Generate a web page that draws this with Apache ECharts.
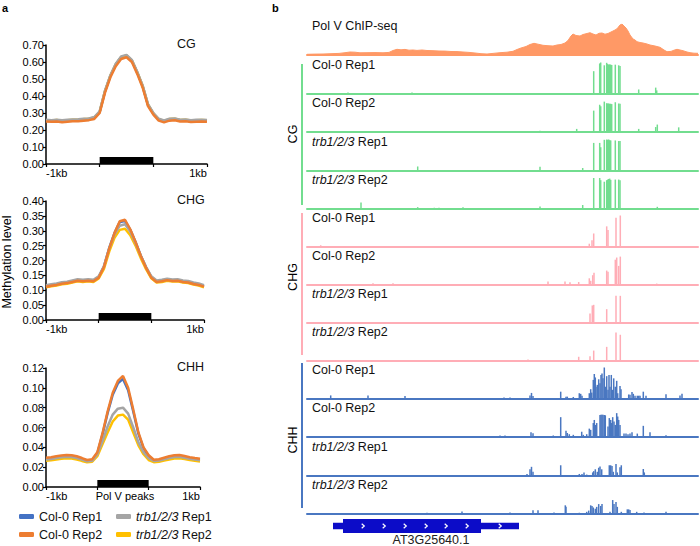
<!DOCTYPE html>
<html>
<head>
<meta charset="utf-8">
<script src="https://cdn.jsdelivr.net/npm/echarts@6/dist/echarts.min.js"></script>
<style>
html, body { margin: 0; padding: 0; background: #fff; }
#chart { width: 700px; height: 546px; }
</style>
</head>
<body>
<div id="chart"></div>
<script>
// ---- panel a: methylation metaplot around Pol V peaks (-1kb .. peak .. +1kb) ----
const profileBins = [0, 1, 2, 3, 4, 5, 6, 7, 8, 9, 10, 11, 12, 13, 14, 15, 16, 17, 18, 19, 20, 21, 22, 23, 24, 25, 26, 27, 28, 29, 30];
const peakRegion = [[10, 20]];
const repNames = ['Col-0 Rep1', 'Col-0 Rep2', 'trb1/2/3 Rep1', 'trb1/2/3 Rep2'];

const cgCol1 = [0.256, 0.255, 0.257, 0.254, 0.256, 0.258, 0.259, 0.262, 0.264, 0.272, 0.305, 0.428, 0.518, 0.585, 0.628, 0.636, 0.608, 0.538, 0.458, 0.348, 0.296, 0.262, 0.252, 0.262, 0.263, 0.257, 0.258, 0.254, 0.256, 0.257, 0.255];
const cgCol2 = [0.250, 0.248, 0.250, 0.246, 0.249, 0.251, 0.252, 0.255, 0.258, 0.265, 0.300, 0.420, 0.510, 0.575, 0.618, 0.628, 0.600, 0.530, 0.450, 0.340, 0.290, 0.255, 0.245, 0.255, 0.257, 0.250, 0.251, 0.247, 0.249, 0.250, 0.248];
const cgTrb1 = [0.260, 0.258, 0.261, 0.257, 0.260, 0.262, 0.263, 0.266, 0.268, 0.276, 0.310, 0.432, 0.522, 0.590, 0.633, 0.642, 0.612, 0.542, 0.462, 0.352, 0.300, 0.266, 0.256, 0.266, 0.268, 0.261, 0.262, 0.258, 0.260, 0.261, 0.259];
const cgTrb2 = [0.258, 0.256, 0.259, 0.255, 0.258, 0.260, 0.261, 0.264, 0.266, 0.274, 0.307, 0.430, 0.520, 0.587, 0.630, 0.639, 0.610, 0.540, 0.460, 0.350, 0.298, 0.264, 0.254, 0.264, 0.266, 0.259, 0.260, 0.256, 0.258, 0.259, 0.257];

const chgCol1 = [0.114, 0.117, 0.120, 0.124, 0.126, 0.130, 0.134, 0.132, 0.134, 0.132, 0.144, 0.180, 0.242, 0.292, 0.329, 0.333, 0.303, 0.262, 0.216, 0.177, 0.144, 0.130, 0.132, 0.136, 0.133, 0.134, 0.130, 0.128, 0.123, 0.120, 0.114];
const chgCol2 = [0.112, 0.115, 0.118, 0.122, 0.124, 0.128, 0.132, 0.130, 0.132, 0.130, 0.142, 0.178, 0.240, 0.292, 0.332, 0.337, 0.305, 0.262, 0.215, 0.175, 0.142, 0.128, 0.130, 0.134, 0.131, 0.132, 0.128, 0.126, 0.121, 0.118, 0.112];
const chgTrb1 = [0.117, 0.120, 0.123, 0.127, 0.129, 0.133, 0.137, 0.135, 0.137, 0.135, 0.147, 0.180, 0.240, 0.287, 0.317, 0.322, 0.297, 0.258, 0.216, 0.178, 0.147, 0.133, 0.135, 0.139, 0.136, 0.137, 0.133, 0.131, 0.126, 0.123, 0.117];
const chgTrb2 = [0.110, 0.113, 0.116, 0.120, 0.122, 0.126, 0.130, 0.128, 0.130, 0.128, 0.140, 0.172, 0.230, 0.276, 0.303, 0.307, 0.285, 0.250, 0.208, 0.171, 0.140, 0.126, 0.128, 0.132, 0.129, 0.130, 0.126, 0.124, 0.119, 0.116, 0.110];

const chhCol1 = [0.0285, 0.0290, 0.0300, 0.0308, 0.0312, 0.0310, 0.0300, 0.0282, 0.0265, 0.0272, 0.0340, 0.0528, 0.0745, 0.0930, 0.1045, 0.1090, 0.0975, 0.0762, 0.0538, 0.0390, 0.0312, 0.0268, 0.0272, 0.0287, 0.0300, 0.0310, 0.0312, 0.0302, 0.0291, 0.0283, 0.0277];
const chhCol2 = [0.0295, 0.0300, 0.0310, 0.0318, 0.0322, 0.0320, 0.0310, 0.0292, 0.0272, 0.0280, 0.0350, 0.0540, 0.0760, 0.0950, 0.1070, 0.1120, 0.1000, 0.0780, 0.0550, 0.0400, 0.0320, 0.0275, 0.0280, 0.0295, 0.0310, 0.0320, 0.0322, 0.0312, 0.0300, 0.0292, 0.0285];
const chhTrb1 = [0.0278, 0.0283, 0.0292, 0.0300, 0.0304, 0.0302, 0.0292, 0.0276, 0.0260, 0.0265, 0.0330, 0.0460, 0.0610, 0.0730, 0.0790, 0.0800, 0.0740, 0.0600, 0.0450, 0.0350, 0.0290, 0.0262, 0.0266, 0.0280, 0.0292, 0.0302, 0.0304, 0.0295, 0.0284, 0.0276, 0.0270];
const chhTrb2 = [0.0265, 0.0270, 0.0278, 0.0285, 0.0290, 0.0288, 0.0278, 0.0263, 0.0250, 0.0255, 0.0310, 0.0430, 0.0550, 0.0660, 0.0720, 0.0730, 0.0680, 0.0550, 0.0420, 0.0330, 0.0272, 0.0250, 0.0254, 0.0266, 0.0278, 0.0287, 0.0290, 0.0282, 0.0272, 0.0264, 0.0258];

// ---- panel b: genome browser, positions are bins across the shown locus (0..391) ----
const chipSignal = [[0, 0.7], [8, 0.9], [16, 1.0], [24, 1.3], [32, 1.6], [38, 2.3], [43, 3.0], [48, 2.8], [53, 2.2], [60, 2.3], [68, 2.4], [76, 2.2], [82, 2.6], [86, 4.5], [90, 5.7], [94, 5.2], [98, 5.6], [102, 4.8], [106, 5.0], [110, 4.6], [115, 5.0], [120, 4.5], [126, 4.3], [132, 4.0], [138, 3.9], [144, 3.5], [150, 3.4], [156, 3.0], [162, 2.6], [168, 2.0], [174, 1.3], [180, 1.0], [186, 1.6], [193, 2.3], [200, 2.8], [206, 3.7], [210, 5.5], [214, 7.0], [219, 8.5], [223, 10.5], [227, 11.7], [231, 10.8], [236, 9.7], [241, 9.3], [246, 9.0], [250, 10.0], [254, 10.5], [258, 12.0], [261, 14.5], [264, 19.0], [266, 21.0], [269, 19.5], [273, 19.0], [276, 20.5], [280, 21.5], [283, 22.3], [286, 21.0], [289, 20.0], [292, 21.7], [295, 22.0], [298, 20.8], [301, 21.5], [304, 23.0], [307, 24.5], [309, 25.5], [311, 27.5], [313, 30.0], [315, 31.0], [317, 29.0], [319, 27.0], [321, 24.0], [323, 20.0], [326, 16.0], [328, 15.0], [330, 13.3], [333, 12.5], [336, 12.0], [340, 11.0], [343, 10.0], [348, 9.0], [353, 7.7], [357, 5.0], [360, 3.3], [364, 3.6], [367, 4.8], [370, 5.7], [373, 5.0], [376, 4.3], [380, 3.0], [383, 2.3], [387, 1.8], [391, 1.7]];

const cgCol0Rep1 = [[41, 0.03], [105, 0.03], [286.7, 0.72], [292.7, 0.97], [293.7, 1.0], [297.3, 0.91], [299.7, 0.99], [300.7, 0.95], [301.7, 0.93], [302.7, 0.94], [303.7, 0.93], [304.7, 0.92], [308.3, 0.93], [311.7, 0.91], [313, 0.89], [331.7, 0.13], [348.7, 0.19], [349.7, 0.1]];
const cgCol0Rep2 = [[233, 0.04], [269.7, 0.1], [286.7, 0.69], [292.7, 0.88], [293.7, 0.83], [297.3, 0.98], [299.7, 0.93], [300.7, 0.92], [301.7, 0.92], [302.7, 0.91], [303.7, 0.91], [304.7, 0.9], [308.3, 0.96], [311.7, 0.92], [313, 0.91], [331.7, 0.1], [348.7, 0.16], [350.3, 0.24], [371.7, 0.15]];
const cgTrbRep1 = [[110.7, 0.13], [233, 0.12], [275.7, 0.08], [286.7, 0.89], [292.7, 0.89], [293.7, 0.75], [297.3, 0.99], [299.7, 1.0], [300.7, 0.99], [301.7, 1.0], [302.7, 0.98], [303.7, 0.97], [308.3, 0.97], [311.7, 0.95], [313, 0.95]];
const cgTrbRep2 = [[54, 0.21], [110.7, 0.06], [127.3, 0.04], [132, 0.04], [156, 0.06], [233, 0.08], [275.7, 0.13], [286.7, 1.0], [292.7, 1.0], [293.7, 0.93], [297.3, 0.88], [299.7, 0.93], [300.7, 0.95], [301.7, 0.97], [302.7, 0.98], [303.7, 0.94], [308.3, 0.95], [311.7, 0.95], [313, 0.93], [350.3, 0.07]];

const chgCol0Rep1 = [[13.7, 0.04], [168, 0.02], [282.3, 0.09], [285, 0.2], [286.7, 0.42], [299.7, 0.65], [301, 0.53], [309, 0.93], [313.3, 1.0]];
const chgCol0Rep2 = [[66, 0.04], [86, 0.04], [241, 0.1], [258, 0.1], [263, 0.07], [271.7, 0.08], [282.3, 0.2], [283.7, 0.12], [285.7, 0.3], [287, 0.38], [299.7, 0.45], [301, 0.41], [308.3, 0.8], [309.7, 0.87], [311.7, 0.6], [313.3, 0.9], [349.7, 0.03]];
const chgTrbRep1 = [[283, 0.29], [285.3, 0.55], [286.7, 0.57], [299.7, 0.43], [309, 0.86], [313.3, 0.86]];
const chgTrbRep2 = [[221, 0.03], [271.7, 0.12], [283, 0.14], [286.7, 0.32], [299.7, 0.44], [309, 0.9], [313.3, 0.83]];

const chhCol0Rep1 = [[23.7, 0.1], [61, 0.1], [98, 0.08], [197, 0.03], [203, 0.03], [223, 0.1], [224.5, 0.18], [226, 0.08], [253.7, 0.22], [259, 0.06], [260.3, 0.06], [266.3, 0.05], [272.3, 0.17], [273.7, 0.15], [275, 0.09], [282.3, 0.17], [283.7, 0.3], [284.7, 0.19], [286.3, 0.6], [287.3, 0.79], [288.3, 0.68], [289, 0.38], [290.3, 0.44], [291.7, 0.62], [293, 0.49], [294, 0.76], [295, 0.81], [296, 0.65], [297.3, 1.0], [298.3, 0.38], [299.7, 0.72], [301, 0.28], [302, 0.76], [303, 0.38], [304.3, 0.76], [305.7, 0.28], [306.7, 0.65], [308.3, 0.38], [309.7, 0.57], [310.7, 0.17], [313, 0.4], [314, 0.3], [321.7, 0.13], [323, 0.12], [325, 0.21], [326.3, 0.15], [328, 0.09], [330.3, 0.09], [331.7, 0.09], [333, 0.09], [336.3, 0.22], [339, 0.09], [359, 0.14], [373, 0.1], [375, 0.15]];
const chhCol0Rep2 = [[22, 0.03], [76, 0.03], [166, 0.03], [193, 0.05], [198, 0.05], [224, 0.15], [226, 0.12], [246.3, 0.05], [253.7, 0.64], [259, 0.2], [260.3, 0.13], [262.3, 0.09], [266.3, 0.07], [274.7, 0.17], [276.3, 0.07], [279.7, 0.09], [282.3, 0.27], [283.7, 0.23], [286.3, 0.45], [287.3, 0.55], [288.3, 0.39], [289.7, 0.45], [293, 0.71], [294, 0.72], [295, 0.72], [296, 0.72], [297.3, 0.71], [298.3, 0.7], [301, 0.34], [302.3, 0.61], [303.7, 0.55], [304.7, 0.45], [305.7, 0.64], [307, 0.5], [308.3, 0.39], [309.7, 0.77], [310.7, 0.66], [311.7, 0.55], [313, 0.39], [317, 0.11], [319, 0.11], [321, 0.09], [323, 0.11], [325, 0.15], [330.3, 0.11], [336.3, 0.36], [343, 0.15], [359, 0.06]];
const chhTrbRep1 = [[186, 0.02], [193, 0.02], [203, 0.02], [220, 0.05], [223, 0.2], [224.5, 0.28], [226, 0.12], [253.7, 0.33], [272.3, 0.05], [275, 0.05], [277, 0.1], [279.7, 0.03], [285.7, 0.1], [286.7, 0.14], [288.3, 0.2], [290.3, 0.12], [291.7, 0.25], [293, 0.29], [294.7, 0.2], [302.3, 0.33], [303.7, 0.33], [305, 0.31], [306.3, 0.12], [309, 0.37], [310.3, 0.1], [313, 0.27], [314.3, 0.33], [336.3, 0.21], [337.3, 0.1]];
const chhTrbRep2 = [[120, 0.04], [155, 0.08], [203, 0.05], [226, 0.12], [231, 0.12], [247, 0.05], [258.3, 0.28], [259, 0.23], [272.3, 0.04], [279.7, 0.07], [281.7, 0.11], [283.7, 0.28], [285, 0.26], [286.3, 0.21], [288.3, 0.17], [289.7, 0.23], [291.7, 0.32], [293.7, 0.26], [295, 0.32], [303, 0.07], [305.7, 0.45], [307, 0.32], [309, 0.39], [310.3, 0.23], [314.3, 0.07], [320.3, 0.15], [321.7, 0.15], [323, 0.13], [329.7, 0.07], [337, 0.05], [359, 0.07]];

// gene model AT3G25640.1: [geneStart, geneEnd, cdsStart, cdsEnd]
const geneModel = [[26, 212, 36, 174]];
const strandMarks = [56, 77, 98, 119, 139, 160, 193];

const FONT = '"Liberation Sans", Arial, Helvetica, sans-serif';
const repColors = ['#4472c4', '#ed7d31', '#a5a5a5', '#ffc000'];
const ctxColors = { CG: '#72dd8f', CHG: '#ffadb6', CHH: '#4a77c1' };
const GENE = '#0c0cc8';

let myChart = echarts.init(document.getElementById('chart'), null, { renderer: 'svg' });

let grid = [], xAxis = [], yAxis = [], series = [], graphic = [];

// profile panels
let profiles = [
    { ctx: 'CG', box: { left: 46, top: 45, width: 161, height: 119 }, max: 0.7, interval: 0.1, rows: [cgCol1, cgCol2, cgTrb1, cgTrb2] },
    { ctx: 'CHG', box: { left: 46, top: 201, width: 158, height: 119 }, max: 0.4, interval: 0.05, rows: [chgCol1, chgCol2, chgTrb1, chgTrb2] },
    { ctx: 'CHH', box: { left: 46, top: 368, width: 154, height: 119 }, max: 0.12, interval: 0.02, rows: [chhCol1, chhCol2, chhTrb1, chhTrb2] },
];
// draw order: blue, yellow, grey, orange on top
let drawOrder = [0, 3, 2, 1];

profiles.forEach(function (p, i) {
    grid.push(Object.assign({ outerBoundsMode: 'none', containLabel: false }, p.box));
    xAxis.push({
        type: 'value', gridIndex: i, min: 0, max: 30, interval: 10,
        axisLine: { lineStyle: { color: '#000', width: 1.5 } },
        axisTick: { length: 3, lineStyle: { color: '#000', width: 1.2 } },
        axisLabel: {
            margin: 3, color: '#000', fontSize: 11, fontFamily: FONT,
            alignMinLabel: 'left', alignMaxLabel: 'right',
            formatter: function (v) { return v === 0 ? '-1kb' : (v === 30 ? '1kb' : ''); },
        },
        splitLine: { show: false },
    });
    yAxis.push({
        type: 'value', gridIndex: i, min: 0, max: p.max, interval: p.interval,
        axisLine: { show: true, lineStyle: { color: '#000', width: 1.5 } },
        axisTick: { show: true, length: 3, lineStyle: { color: '#000', width: 1.2 } },
        axisLabel: { margin: 2, color: '#000', fontSize: 11, fontFamily: FONT, formatter: function (v) { return v.toFixed(2); } },
        splitLine: { show: false },
    });
    drawOrder.forEach(function (r) {
        series.push({
            type: 'line', name: repNames[r], xAxisIndex: i, yAxisIndex: i,
            data: profileBins.map(function (x, k) { return [x, p.rows[r][k]]; }),
            symbol: 'none', smooth: false,
            lineStyle: { width: 2.5, color: repColors[r] },
            itemStyle: { color: repColors[r] },
        });
    });
    // black bar marking the Pol V peak region
    series.push({
        type: 'custom', xAxisIndex: i, yAxisIndex: i, data: peakRegion, silent: true,
        renderItem: function (params, api) {
            let a = api.coord([api.value(0), 0]);
            let b = api.coord([api.value(1), 0]);
            return { type: 'rect', shape: { x: a[0], y: a[1] - 7, width: b[0] - a[0], height: 7 }, style: { fill: '#000' } };
        },
    });
    graphic.push({ type: 'text', x: p.box.left + 131, y: p.box.top - 1, style: { text: p.ctx, fontSize: 12.5, fontFamily: FONT, fill: '#111', align: 'left', verticalAlign: 'middle' } });
});

// ChIP-seq track
let gi = grid.length;
grid.push({ left: 307, top: 24, width: 391, height: 31, outerBoundsMode: 'none' });
xAxis.push({ type: 'value', gridIndex: gi, min: 0, max: 391, axisLine: { lineStyle: { color: '#ff9966', width: 2 } }, axisTick: { show: false }, axisLabel: { show: false }, splitLine: { show: false } });
yAxis.push({ type: 'value', gridIndex: gi, min: 0, max: 31, show: false });
series.push({
    type: 'line', xAxisIndex: gi, yAxisIndex: gi, data: chipSignal, symbol: 'none',
    lineStyle: { width: 1, color: '#ff9966' }, areaStyle: { color: '#ff9966', opacity: 1 },
});
graphic.push({ type: 'text', x: 312, y: 26, style: { text: 'Pol V ChIP-seq', fontSize: 12.5, fontFamily: FONT, fill: '#111', verticalAlign: 'middle' } });

// methylation tracks
let tracks = [
    { ctx: 'CG', label: 'Col-0 Rep1', data: cgCol0Rep1 },
    { ctx: 'CG', label: 'Col-0 Rep2', data: cgCol0Rep2 },
    { ctx: 'CG', label: '{i|trb1/2/3} Rep1', data: cgTrbRep1 },
    { ctx: 'CG', label: '{i|trb1/2/3} Rep2', data: cgTrbRep2 },
    { ctx: 'CHG', label: 'Col-0 Rep1', data: chgCol0Rep1 },
    { ctx: 'CHG', label: 'Col-0 Rep2', data: chgCol0Rep2 },
    { ctx: 'CHG', label: '{i|trb1/2/3} Rep1', data: chgTrbRep1 },
    { ctx: 'CHG', label: '{i|trb1/2/3} Rep2', data: chgTrbRep2 },
    { ctx: 'CHH', label: 'Col-0 Rep1', data: chhCol0Rep1 },
    { ctx: 'CHH', label: 'Col-0 Rep2', data: chhCol0Rep2 },
    { ctx: 'CHH', label: '{i|trb1/2/3} Rep1', data: chhTrbRep1 },
    { ctx: 'CHH', label: '{i|trb1/2/3} Rep2', data: chhTrbRep2 },
];
let baselines = [93.5, 132, 170.5, 209, 246.5, 284.5, 322.5, 360.5, 398.5, 437, 475.5, 514];

tracks.forEach(function (t, k) {
    let idx = grid.length;
    let color = ctxColors[t.ctx];
    grid.push({ left: 307, top: baselines[k] - 31, width: 391, height: 31, outerBoundsMode: 'none' });
    xAxis.push({ type: 'value', gridIndex: idx, min: 0, max: 391, axisLine: { lineStyle: { color: color, width: 2 } }, axisTick: { show: false }, axisLabel: { show: false }, splitLine: { show: false } });
    yAxis.push({ type: 'value', gridIndex: idx, min: 0, max: 1, show: false });
    series.push({
        type: 'bar', xAxisIndex: idx, yAxisIndex: idx, data: t.data, barWidth: 1.5,
        itemStyle: { color: color }, silent: true,
    });
    graphic.push({
        type: 'text', x: 312, y: baselines[k] - 29,
        style: { text: t.label, fontSize: 12.5, fontFamily: FONT, fill: '#111', verticalAlign: 'middle', rich: { i: { fontStyle: 'italic', fontSize: 12.5, fontFamily: FONT, fill: '#111' } } },
    });
});

// gene model
let gg = grid.length;
grid.push({ left: 307, top: 519, width: 391, height: 14, outerBoundsMode: 'none' });
xAxis.push({ type: 'value', gridIndex: gg, min: 0, max: 391, show: false });
yAxis.push({ type: 'value', gridIndex: gg, min: 0, max: 1, show: false });
series.push({
    type: 'custom', xAxisIndex: gg, yAxisIndex: gg, data: geneModel, silent: true,
    renderItem: function (params, api) {
        let y = api.coord([0, 0.5])[1];
        let g0 = api.coord([api.value(0), 0.5])[0], g1 = api.coord([api.value(1), 0.5])[0];
        let c0 = api.coord([api.value(2), 0.5])[0], c1 = api.coord([api.value(3), 0.5])[0];
        let kids = [
            { type: 'rect', shape: { x: g0, y: y - 3.3, width: g1 - g0, height: 6.6 }, style: { fill: GENE } },
            { type: 'rect', shape: { x: c0, y: y - 7, width: c1 - c0, height: 14 }, style: { fill: GENE } },
        ];
        strandMarks.forEach(function (m) {
            let x = api.coord([m, 0.5])[0];
            kids.push({ type: 'polyline', shape: { points: [[x - 1.3, y - 2.3], [x + 1.3, y], [x - 1.3, y + 2.3]] }, style: { stroke: '#fff', lineWidth: 1.2, fill: null } });
        });
        return { type: 'group', children: kids };
    },
});

// labels and decorations
graphic.push(
    { type: 'text', x: 2, y: 8, style: { text: 'a', fontSize: 11, fontWeight: 'bold', fontFamily: FONT, fill: '#000', verticalAlign: 'middle' } },
    { type: 'text', x: 272, y: 8, style: { text: 'b', fontSize: 11, fontWeight: 'bold', fontFamily: FONT, fill: '#000', verticalAlign: 'middle' } },
    { type: 'text', x: 7, y: 262, rotation: Math.PI / 2, style: { text: 'Methylation level', fontSize: 12.5, fontFamily: FONT, fill: '#000', align: 'center', verticalAlign: 'middle' } },
    { type: 'text', x: 125, y: 496, style: { text: 'Pol V peaks', fontSize: 11, fontFamily: FONT, fill: '#000', align: 'center', verticalAlign: 'middle' } },
    { type: 'text', x: 431, y: 540, style: { text: 'AT3G25640.1', fontSize: 12.5, fontFamily: FONT, fill: '#222', align: 'center', verticalAlign: 'middle' } },
    { type: 'line', shape: { x1: 302, y1: 64, x2: 302, y2: 205 }, style: { stroke: ctxColors.CG, lineWidth: 2 } },
    { type: 'line', shape: { x1: 302, y1: 213, x2: 302, y2: 355 }, style: { stroke: ctxColors.CHG, lineWidth: 2 } },
    { type: 'line', shape: { x1: 302, y1: 363, x2: 302, y2: 508 }, style: { stroke: ctxColors.CHH, lineWidth: 2 } },
    { type: 'text', x: 293, y: 134, rotation: Math.PI / 2, style: { text: 'CG', fontSize: 12.5, fontFamily: FONT, fill: '#000', align: 'center', verticalAlign: 'middle' } },
    { type: 'text', x: 293, y: 277, rotation: Math.PI / 2, style: { text: 'CHG', fontSize: 12.5, fontFamily: FONT, fill: '#000', align: 'center', verticalAlign: 'middle' } },
    { type: 'text', x: 293, y: 440, rotation: Math.PI / 2, style: { text: 'CHH', fontSize: 12.5, fontFamily: FONT, fill: '#000', align: 'center', verticalAlign: 'middle' } }
);

let legendText = {
    fontSize: 12.5, fontFamily: FONT, color: '#111',
    rich: { i: { fontStyle: 'italic', fontSize: 12.5, fontFamily: FONT, color: '#111' } },
};
function legendName(name) {
    return name.indexOf('trb') === 0 ? '{i|trb1/2/3}' + name.slice(8) : name;
}
// one legend per item so they sit in a 2x2 block
let legendSpots = [[19, 510], [19, 528], [116, 510], [116, 528]];
let legends = repNames.map(function (name, r) {
    return {
        left: legendSpots[r][0], top: legendSpots[r][1], itemWidth: 15, itemHeight: 5, itemGap: 4,
        icon: 'roundRect', data: [name], textStyle: legendText, formatter: legendName, selectedMode: false,
        padding: 0,
    };
});

let option = {
    animation: false,
    backgroundColor: '#fff',
    grid: grid,
    xAxis: xAxis,
    yAxis: yAxis,
    legend: legends,
    graphic: graphic,
    series: series,
};

myChart.setOption(option);
window.addEventListener('resize', function () {
    myChart.resize();
});
</script>
</body>
</html>
